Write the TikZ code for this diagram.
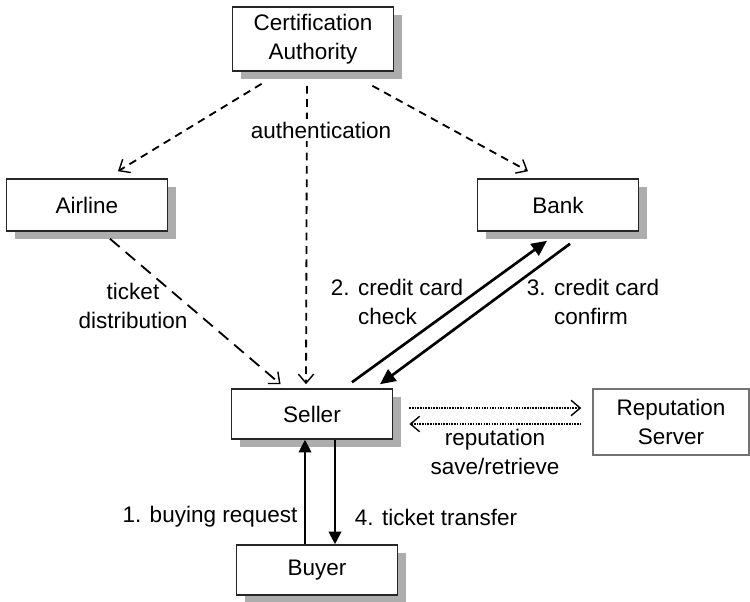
\documentclass[tikz,border=0pt]{standalone}
\usepackage{fontspec}
\setsansfont{Liberation Sans}
\usetikzlibrary{arrows.meta,shadows,calc}

\begin{document}
\begin{tikzpicture}[x=0.025cm,y=-0.025cm,font=\sffamily\fontsize{16}{20.3}\selectfont,
	box/.style={draw=black!85,line width=1.1pt,fill=white,align=center,inner sep=0pt,
		minimum width=4.03cm,minimum height=1.3cm,
		drop shadow={shadow xshift=0.22cm,shadow yshift=-0.2cm,fill=black!32,opacity=1}},
	repbox/.style={draw=black!55,line width=1pt,fill=white,align=center,inner sep=0pt,
		minimum width=3.9cm,minimum height=1.65cm},
	auth/.style={line width=1.3pt,dash pattern=on 5.5pt off 4pt,
		-{Straight Barb[length=6.5pt,width=11pt,line width=1pt]}},
	distrib/.style={line width=1.3pt,dash pattern=on 9pt off 5.5pt,
		-{Straight Barb[length=6.5pt,width=11pt,line width=1pt]}},
	pay/.style={line width=1.9pt,-{Triangle[length=11pt,width=10pt]}},
	buy/.style={line width=1.4pt,-{Triangle[length=9pt,width=9pt]}},
	repu/.style={line width=1.2pt,dash pattern=on 1.1pt off 0.8pt,
		-{Straight Barb[length=6.5pt,width=11pt,line width=1pt]}},
	lbl/.style={inner sep=0pt,align=center}]
	\useasboundingbox (0,0) rectangle (750,601);

	\node [box,minimum height=1.6cm] (ca) at (313,39) {Certification\\Authority};
	\node [box] (airline) at (87,205) {Airline};
	\node [box] (bank) at (558,205) {Bank};
	\node [box,minimum height=1.25cm] (seller) at (312,414) {Seller};
	\node [box,minimum height=1.25cm] (buyer) at (317,570) {Buyer};
	\node [repbox] (rep) at (671,422) {Reputation\\Server};

	\draw [auth] ($(ca.south west)+(30,12)$) -- ($(airline.north)+(31,-7)$);
	\draw [auth] ($(ca.south)+(-6,14)$) -- ($(seller.north)+(-6,-4)$);
	\draw [auth] ($(ca.south east)+(-22,14)$) -- ($(bank.north)+(-30,-7)$);
	\draw [distrib] ($(airline.south)+(23,7)$) -- ($(seller.north west)+(50,-4)$);
	\draw [pay] ($(seller.north)+(40,-6)$) -- ($(bank.south)+(-11,9)$);
	\draw [pay] ($(bank.south)+(12,12)$) -- ($(seller.north)+(68,-4)$);
	\draw [buy] ($(buyer.north)+(-12,0)$) -- ($(seller.south)+(-7,0)$);
	\draw [buy] ($(seller.south)+(23,0)$) -- ($(buyer.north)+(18,0)$);
	\draw [repu] ($(seller.east)+(16,-6)$) -- ($(rep.west)+(-11,-14)$);
	\draw [repu] ($(rep.west)+(-11,2)$) -- ($(seller.east)+(16,10)$);

	\node [lbl,fill=white,inner sep=2pt] (authlbl) at (321,130) {authentication};
	\node [lbl] (distriblbl) at (133,306) {ticket\\distribution};
	\node [lbl,align=left] (checklbl) at (397,302) {2. credit card\\\phantom{2. }check};
	\node [lbl,align=left] (confirmlbl) at (593,302) {3. credit card\\\phantom{3. }confirm};
	\node [lbl] (buylbl) at (210,517) {1. buying request};
	\node [lbl] (transferlbl) at (436,517) {4. ticket transfer};
	\node [lbl] (replbl) at (495,452) {reputation\\save/retrieve};
\end{tikzpicture}
\end{document}
